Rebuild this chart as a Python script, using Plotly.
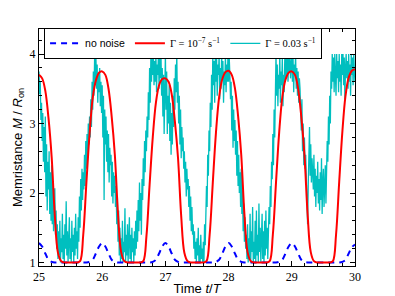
import numpy as np
import plotly.graph_objects as go

# ---- data ----
t_coarse = [round(25 + 0.05 * i, 2) for i in range(101)]
t_fine = [round(25 + 0.01 * i, 2) for i in range(501)]

no_noise = [
    1.28, 1.23, 1.13, 1.04, 1.01, 1.00, 1.00, 1.00, 1.00, 1.00, 1.00, 1.00, 1.00, 1.00, 1.00, 1.00, 1.01, 1.04, 1.13, 1.23,
    1.28, 1.23, 1.13, 1.04, 1.01, 1.00, 1.00, 1.00, 1.00, 1.00, 1.00, 1.00, 1.00, 1.00, 1.00, 1.00, 1.01, 1.04, 1.13, 1.23,
    1.28, 1.23, 1.13, 1.04, 1.01, 1.00, 1.00, 1.00, 1.00, 1.00, 1.00, 1.00, 1.00, 1.00, 1.00, 1.00, 1.01, 1.04, 1.13, 1.23,
    1.28, 1.23, 1.13, 1.04, 1.01, 1.00, 1.00, 1.00, 1.00, 1.00, 1.00, 1.00, 1.00, 1.00, 1.00, 1.00, 1.01, 1.04, 1.13, 1.23,
    1.28, 1.23, 1.13, 1.04, 1.01, 1.00, 1.00, 1.00, 1.00, 1.00, 1.00, 1.00, 1.00, 1.00, 1.00, 1.00, 1.01, 1.04, 1.13, 1.22,
    1.26,
]

gamma_small = [
    3.70, 3.65, 3.47, 3.08, 2.52, 1.68, 1.14, 1.02, 1.00, 1.00, 1.00, 1.00, 1.00, 1.02, 1.40, 2.15, 2.85, 3.37, 3.62, 3.73,
    3.75, 3.70, 3.50, 3.10, 2.55, 1.70, 1.15, 1.02, 1.00, 1.00, 1.00, 1.00, 1.00, 1.02, 1.38, 2.12, 2.80, 3.30, 3.55, 3.64,
    3.65, 3.60, 3.42, 3.03, 2.50, 1.67, 1.14, 1.02, 1.00, 1.00, 1.00, 1.00, 1.00, 1.02, 1.40, 2.15, 2.87, 3.38, 3.64, 3.74,
    3.76, 3.70, 3.51, 3.11, 2.55, 1.70, 1.15, 1.02, 1.00, 1.00, 1.00, 1.00, 1.00, 1.02, 1.40, 2.15, 2.87, 3.38, 3.63, 3.73,
    3.75, 3.70, 3.50, 3.10, 2.55, 1.70, 1.15, 1.02, 1.00, 1.00, 1.00, 1.00, 1.00, 1.02, 1.40, 2.16, 2.88, 3.40, 3.66, 3.76,
    3.78,
]

gamma_large = [
    3.75, 3.42, 3.60, 3.05, 3.30, 2.75, 3.15, 2.45, 2.95, 2.30,
    3.10, 1.95, 2.70, 1.75, 2.45, 2.05, 2.60, 1.70, 2.30, 1.60,
    2.40, 1.55, 2.15, 1.45, 1.90, 2.07, 1.40, 1.75, 1.20, 1.55,
    1.05, 1.45, 1.10, 1.60, 1.00, 1.35, 1.15, 1.70, 1.05, 1.40,
    1.00, 1.55, 1.20, 1.88, 1.10, 1.45, 1.00, 1.30, 1.65, 1.05,
    1.35, 1.00, 1.60, 1.15, 1.40, 1.00, 1.50, 1.10, 1.70, 1.20,
    1.45, 1.05, 1.65, 1.30, 1.95, 1.50, 2.20, 1.75, 2.35, 1.90,
    2.30, 2.05, 2.55, 2.10, 2.75, 2.35, 2.85, 2.50, 3.00, 2.70,
    3.10, 2.80, 3.35, 2.95, 3.60, 3.20, 3.75, 3.40, 3.95, 3.55,
    4.00, 3.50, 3.85, 3.30, 3.70, 3.45, 3.80, 3.25, 3.60, 3.15,
    3.55, 2.80, 3.40, 1.90, 3.20, 2.70, 3.10, 2.45, 2.90, 2.30,
    2.85, 2.15, 2.65, 2.40, 2.55, 1.95, 2.45, 1.85, 2.30, 2.00,
    2.25, 1.80, 2.10, 1.55, 1.95, 1.30, 1.75, 1.10, 1.50, 1.00,
    1.35, 1.05, 1.60, 1.00, 1.30, 1.15, 1.78, 1.00, 1.40, 1.10,
    1.55, 1.00, 1.25, 1.65, 1.05, 1.40, 1.00, 1.50, 1.15, 1.35,
    1.00, 1.45, 1.10, 1.60, 1.20, 1.75, 1.30, 1.90, 1.45, 2.15,
    1.60, 2.00, 1.40, 2.20, 1.90, 2.50, 2.10, 2.75, 2.30, 2.90,
    2.60, 3.10, 2.80, 3.45, 3.05, 3.80, 3.30, 3.95, 3.60, 4.00,
    3.70, 4.00, 3.55, 3.90, 3.60, 4.00, 3.45, 3.85, 3.70, 4.00,
    3.50, 3.95, 3.65, 4.00, 3.40, 3.80, 3.10, 3.70, 2.85, 3.60,
    4.00, 3.20, 3.75, 2.85, 3.40, 3.00, 3.55, 2.75, 3.30, 2.55,
    3.15, 2.70, 3.40, 2.95, 3.65, 3.20, 3.85, 3.45, 4.00, 3.30,
    3.60, 3.00, 3.40, 2.70, 3.20, 2.50, 2.95, 2.60, 2.80, 2.35,
    2.60, 2.15, 2.45, 1.95, 2.35, 2.05, 2.20, 1.80, 2.10, 1.60,
    1.95, 1.45, 1.80, 1.40, 1.55, 1.20, 1.45, 1.05, 1.30, 1.00,
    1.35, 1.10, 1.50, 1.00, 1.25, 1.00, 1.40, 1.05, 1.20, 1.00,
    1.30, 1.00, 1.55, 1.25, 1.75, 2.10, 1.80, 2.55, 2.25, 2.90,
    2.60, 3.30, 2.95, 3.70, 3.20, 4.00, 3.55, 3.90, 3.30, 4.00,
    3.60, 3.95, 3.40, 3.85, 3.70, 4.00, 3.35, 3.80, 3.50, 4.00,
    3.65, 3.90, 3.30, 3.75, 3.55, 4.00, 3.45, 3.85, 3.60, 4.00,
    3.60, 3.95, 3.70, 3.35, 3.60, 2.90, 3.40, 2.65, 3.20, 2.75,
    3.05, 2.55, 2.90, 2.25, 2.75, 2.10, 2.55, 2.00, 2.30, 1.80,
    2.35, 1.70, 2.05, 1.45, 1.85, 1.30, 1.65, 1.20, 1.40, 1.05,
    1.55, 1.00, 1.35, 1.05, 1.70, 1.00, 1.45, 1.15, 1.80, 1.00,
    1.30, 1.05, 1.60, 1.00, 1.75, 1.10, 1.40, 1.00, 1.85, 1.15,
    1.50, 1.00, 1.35, 1.70, 1.05, 1.45, 1.00, 1.60, 1.10, 1.75,
    1.20, 1.50, 1.05, 1.40, 1.80, 1.55, 2.10, 1.80, 2.45, 2.20,
    2.85, 2.40, 3.20, 2.80, 3.60, 4.00, 3.40, 3.85, 3.25, 3.70,
    3.50, 4.00, 3.30, 3.75, 3.55, 3.95, 3.25, 3.70, 3.45, 4.00,
    3.65, 4.00, 3.70, 3.95, 3.60, 4.00, 3.75, 4.00, 3.65, 3.90,
    4.00, 3.60, 3.95, 3.45, 3.85, 3.70, 4.00, 3.50, 3.80, 3.40,
    3.75, 3.30, 3.65, 3.50, 3.20, 2.90, 3.35, 2.60, 3.00, 2.40,
    2.80, 2.35, 2.55, 2.00, 1.75, 1.55, 2.10, 2.40, 2.95, 2.25,
    2.70, 2.15, 2.50, 2.30, 2.05, 2.55, 1.95, 2.35, 1.80, 2.25,
    2.00, 2.45, 1.85, 2.20, 1.75, 2.30, 1.90, 2.50, 1.70, 2.15,
    2.35, 1.80, 2.10, 2.40, 1.85, 2.25, 2.75, 2.45, 3.10, 2.70,
    3.40, 3.00, 3.75, 3.50, 4.00, 3.60, 3.95, 3.45, 4.00, 3.70,
    3.40, 4.00, 3.65, 3.90, 3.45, 4.00, 3.60, 3.85, 3.40, 4.00,
    3.70, 4.00, 3.55, 3.95, 3.35, 3.80, 4.00, 3.65, 3.90, 3.50,
    4.00, 3.60, 3.85, 3.40, 4.00, 3.70, 3.95, 3.55, 4.00, 3.75,
    3.60,
]

x_ticks = [25, 26, 27, 28, 29, 30]
y_ticks = [1, 2, 3, 4]

SERIF = "Liberation Serif, DejaVu Serif, serif"
SANS = "Liberation Sans, Arial, DejaVu Sans, sans-serif"

fig = go.Figure()
fig.add_trace(go.Scatter(
    x=t_fine, y=gamma_large, mode="lines",
    name='<span style="font-family:Liberation Serif">Γ = 0.03 s<sup>−1</sup></span>',
    line=dict(color="#00bfbf", width=1.3), legendrank=3,
))
fig.add_trace(go.Scatter(
    x=t_coarse, y=no_noise, mode="lines", name="no noise",
    line=dict(color="#0000ff", width=2, dash="6px,5px", shape="spline"), legendrank=1,
))
fig.add_trace(go.Scatter(
    x=t_coarse, y=gamma_small, mode="lines",
    name='<span style="font-family:Liberation Serif">Γ = 10<sup>−7</sup> s<sup>−1</sup></span>',
    line=dict(color="#ff0000", width=2, shape="spline"), legendrank=2,
))

axis_common = dict(
    showgrid=False, zeroline=False, showline=True, linecolor="black", linewidth=1,
    mirror="allticks", ticks="inside", ticklen=5, tickwidth=1, tickcolor="black",
    tickfont=dict(family=SERIF, size=12, color="black"), automargin=False,
)
fig.update_xaxes(
    range=[25, 30], tickvals=x_ticks, ticktext=[str(v) for v in x_ticks],
    minor=dict(dtick=0.2, ticks="inside", ticklen=3, tickcolor="black", showgrid=False),
    title=dict(text="Time <i>t</i>/<i>T</i>", font=dict(family=SANS, size=13, color="black"), standoff=0),
    **axis_common,
)
fig.update_yaxes(
    range=[0.95, 4.36], tickvals=y_ticks, ticktext=[str(v) for v in y_ticks],
    minor=dict(dtick=0.2, tick0=0, ticks="inside", ticklen=3, tickcolor="black", showgrid=False),
    title=dict(text="Memristance <i>M</i> / <i>R</i><sub>on</sub>", font=dict(family=SANS, size=13, color="black"), standoff=4),
    **axis_common,
)
fig.update_layout(
    width=395, height=296,
    margin=dict(l=39, r=40, t=29, b=30),
    paper_bgcolor="white", plot_bgcolor="white",
    font=dict(family=SANS, size=11, color="black"),
    legend=dict(
        orientation="h", x=0.016, y=1.005, xanchor="left", yanchor="top",
        bgcolor="white", bordercolor="black", borderwidth=1,
        font=dict(family=SANS, size=10.5, color="black"),
        itemwidth=30, tracegroupgap=0,
    ),
    showlegend=True,
)

fig.write_html(
    "out.html",
    config={"displayModeBar": False},
    post_script="document.body.style.margin='0';document.body.style.overflow='hidden';",
)
